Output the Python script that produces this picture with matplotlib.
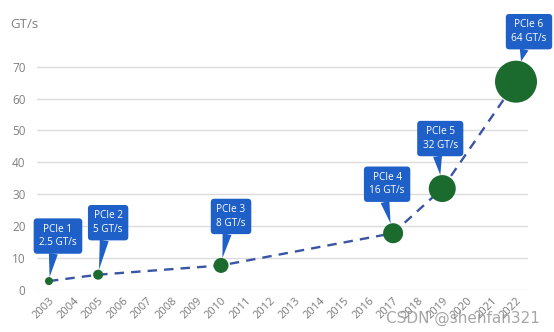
import matplotlib
matplotlib.use("Agg")
import matplotlib.pyplot as plt

# ── data ────────────────────────────────────────────────────
years = list(range(2003, 2023))
gen_years = [2003, 2005, 2010, 2017, 2019, 2022]
gen_rates = [2.8, 4.8, 7.7, 17.8, 31.8, 65.3]          # plotted position (GT/s)
gen_labels = ["PCIe 1\n2.5 GT/s", "PCIe 2\n5 GT/s", "PCIe 3\n8 GT/s",
              "PCIe 4\n16 GT/s", "PCIe 5\n32 GT/s", "PCIe 6\n64 GT/s"]
y_ticks = [0, 10, 20, 30, 40, 50, 60, 70]

# ── styling ─────────────────────────────────────────────────
marker_diam_px = [8, 10, 15, 20, 27, 42]
label_offset_px = [(9, 45), (10, 52), (10, 49), (-6, 49), (-2, 50), (13, 50)]
BLUE_BOX = "#1f5fc8"
GREEN = "#1b6b2e"
LINE = "#3a55a4"
GRAY = "#808080"

plt.rcParams["font.family"] = ["Open Sans", "DejaVu Sans"]

fig = plt.figure(figsize=(5.54, 3.32), dpi=100)
fig.patch.set_facecolor("white")
ax = fig.add_axes([0.0662, 0.1265, 0.8874, 0.7495])

ax.set_xlim(2002.5, 2022.5)
ax.set_ylim(0, 78)
ax.set_yticks(y_ticks)
ax.yaxis.grid(True, color="#dcdcdc", linewidth=1)
ax.set_axisbelow(True)
for s in ax.spines.values():
    s.set_visible(False)
ax.set_xticks(years)
ax.set_xticklabels([str(y) for y in years], rotation=45, ha="right",
                   rotation_mode="anchor", fontsize=8, color="#7a7a7a")
ax.tick_params(axis="x", length=0, pad=4)
ax.tick_params(axis="y", length=0, pad=8, labelsize=8.5, labelcolor=GRAY)

ax.plot(gen_years, gen_rates, linestyle=(0, (4, 3)), color=LINE,
        linewidth=1.7, zorder=2)
sizes = [(d * 0.72) ** 2 for d in marker_diam_px]
ax.scatter(gen_years, gen_rates, s=sizes, color=GREEN, zorder=3,
           edgecolors="none", clip_on=False)

for x, y, lab, (dx, dy), d in zip(gen_years, gen_rates, gen_labels,
                                  label_offset_px, marker_diam_px):
    ax.annotate(lab, xy=(x, y), xytext=(dx, dy), textcoords="offset pixels",
                ha="center", va="center", fontsize=7.2, color="white",
                linespacing=1.3, zorder=5,
                bbox=dict(boxstyle="round,pad=0.55,rounding_size=0.35",
                          fc=BLUE_BOX, ec="none"),
                arrowprops=dict(arrowstyle="wedge,tail_width=0.9",
                                fc=BLUE_BOX, ec="none",
                                shrinkA=0, shrinkB=d * 0.36,
                                relpos=(0.4, 0.0)))

fig.text(10 / 554, 1 - 25 / 332, "GT/s", fontsize=9.5, color=GRAY,
         ha="left", va="center")
fig.text(0.975, 1 - 318 / 332, "CSDN @shenfan321", fontsize=11,
         color="#909090", alpha=0.8, ha="right", va="center",
         family=["DejaVu Sans"])

fig.savefig("out.png", dpi=100, facecolor="white")
